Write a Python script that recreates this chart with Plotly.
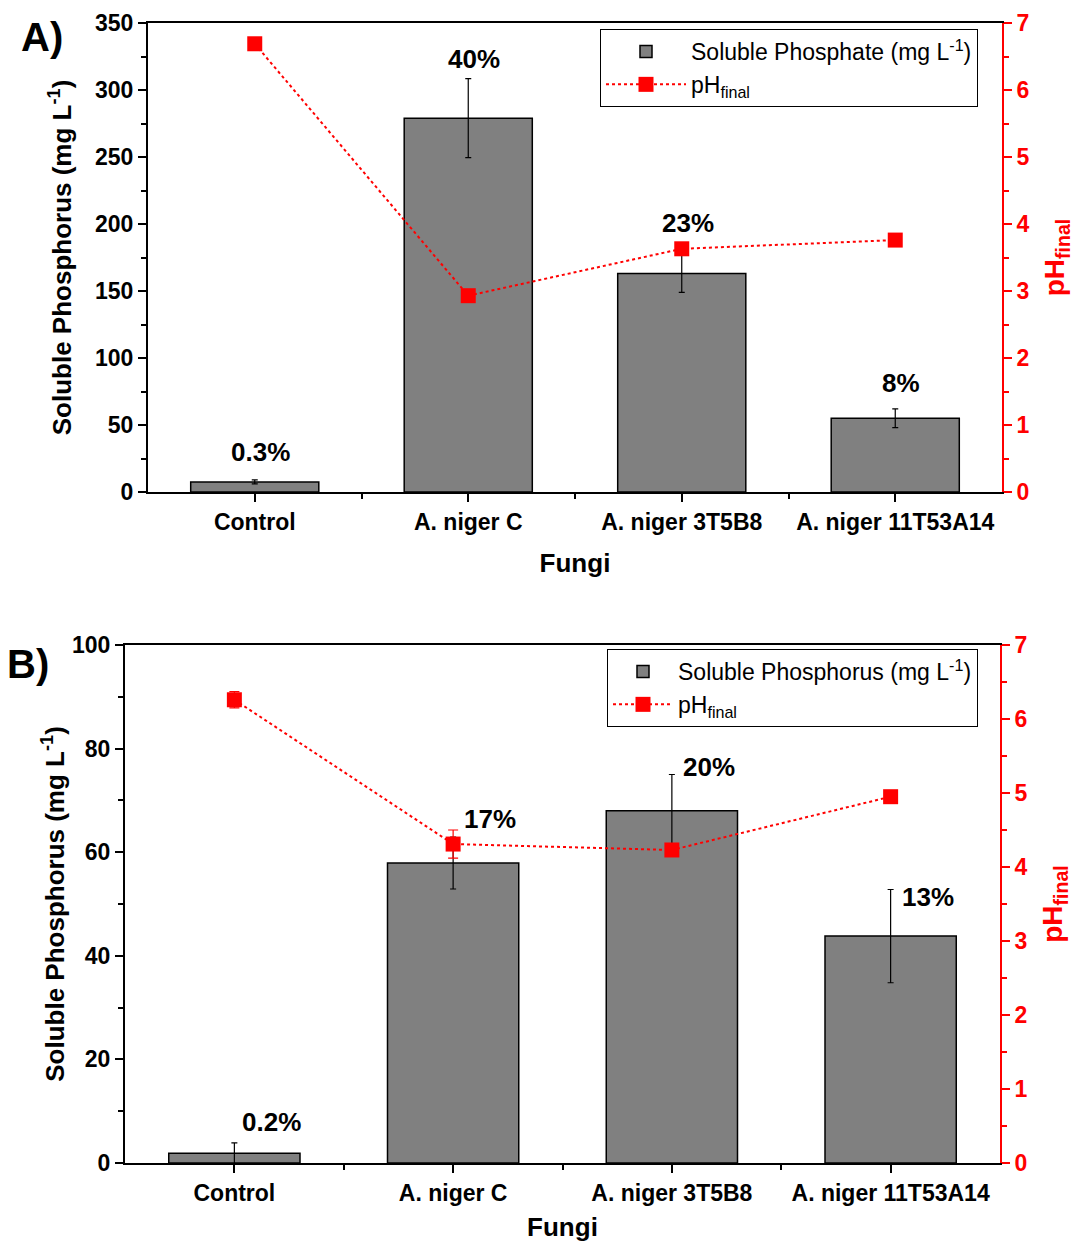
import plotly.graph_objects as go

# ---------------- data ----------------
categories = ["Control", "A. niger C", "A. niger 3T5B8", "A. niger 11T53A14"]

# Panel A
a_phosphate = [7.5, 279, 163, 55]
a_phosphate_err = [1.5, 29.5, 14, 7]
a_ph = [6.69, 2.93, 3.63, 3.76]
a_pct = ["0.3%", "40%", "23%", "8%"]
a_pct_y = [30, 323, 201, 81]

# Panel B
b_phosphorus = [1.9, 57.9, 68, 43.8]
b_phosphorus_err = [2, 5, 7, 9]
b_ph = [6.26, 4.31, 4.23, 4.95]
b_ph_err = [0.11, 0.19, 0.0, 0.0]
b_pct = ["0.2%", "17%", "20%", "13%"]
b_pct_y = [7.9, 66.4, 76.4, 51.4]

xpos = list(range(len(categories)))
W, H = 1087, 1242

FONT = "Liberation Sans, Arial, sans-serif"
GRAY = "#808080"
RED = "#ff0000"

fig = go.Figure()

# ---- Panel A ----
fig.add_trace(go.Bar(
    x=xpos, y=a_phosphate, width=0.6,
    marker=dict(color=GRAY, line=dict(color="black", width=1.5)),
    error_y=dict(type="data", array=a_phosphate_err, color="black", thickness=1.2, width=3),
    name="Soluble Phosphate (mg L<sup>-1</sup>)", xaxis="x", yaxis="y", legend="legend"))
fig.add_trace(go.Scatter(
    x=xpos, y=a_ph, mode="lines+markers",
    line=dict(color=RED, width=2, dash="dot"),
    marker=dict(symbol="square", size=15, color=RED),
    name="pH<sub>final</sub>", xaxis="x", yaxis="y2", legend="legend"))

# ---- Panel B ----
fig.add_trace(go.Bar(
    x=xpos, y=b_phosphorus, width=0.6,
    marker=dict(color=GRAY, line=dict(color="black", width=1.5)),
    error_y=dict(type="data", array=b_phosphorus_err, color="black", thickness=1.2, width=3),
    name="Soluble Phosphorus (mg L<sup>-1</sup>)", xaxis="x2", yaxis="y3", legend="legend2"))
fig.add_trace(go.Scatter(
    x=xpos, y=b_ph, mode="lines+markers",
    line=dict(color=RED, width=2, dash="dot"),
    marker=dict(symbol="square", size=15, color=RED),
    error_y=dict(type="data", array=b_ph_err, color=RED, thickness=1.2, width=5),
    name="pH<sub>final</sub>", xaxis="x2", yaxis="y4", legend="legend2"))

# ---- annotations (percent labels) ----
ann = []
for i, t in enumerate(a_pct):
    ann.append(dict(x=xpos[i], y=a_pct_y[i], xref="x", yref="y",
                    text=f"<b>{t}</b>", showarrow=False, xanchor="center", yanchor="middle",
                    xshift=6, font=dict(size=26, color="black", family=FONT)))
for i, t in enumerate(b_pct):
    ann.append(dict(x=xpos[i], y=b_pct_y[i], xref="x2", yref="y3",
                    text=f"<b>{t}</b>", showarrow=False, xanchor="center", yanchor="middle",
                    xshift=37, font=dict(size=26, color="black", family=FONT)))
ann.append(dict(x=42 / W, y=1 - 37 / H, xref="paper", yref="paper", text="<b>A)</b>",
                xanchor="center", yanchor="middle",
                showarrow=False, font=dict(size=40, color="black", family=FONT)))
ann.append(dict(x=28 / W, y=1 - 664 / H, xref="paper", yref="paper", text="<b>B)</b>",
                xanchor="center", yanchor="middle",
                showarrow=False, font=dict(size=40, color="black", family=FONT)))

tickfont = dict(size=23, color="black", family=FONT, weight="bold")
redtickfont = dict(size=23, color=RED, family=FONT, weight="bold")
titlefont = dict(size=26, color="black", family=FONT, weight="bold")
redtitlefont = dict(size=28, color=RED, family=FONT, weight="bold")

def xaxis_cfg(domain, anchor):
    return dict(domain=domain, anchor=anchor, range=[-0.5, 3.5], automargin=False,
                tickvals=xpos, ticktext=categories, tickfont=tickfont,
                ticks="outside", ticklen=8, tickwidth=1.5, tickcolor="black",
                minor=dict(tickvals=[0.5, 1.5, 2.5], ticks="outside", ticklen=5, tickcolor="black"),
                showline=True, linecolor="black", linewidth=2, mirror=True,
                showgrid=False, zeroline=False,
                title=dict(text="Fungi", font=titlefont, standoff=20))

def xtop_cfg(overlay, anchor):
    return dict(overlaying=overlay, anchor=anchor, side="top", range=[-0.5, 3.5], automargin=False,
                tickvals=xpos, showticklabels=False,
                ticks="inside", ticklen=6, tickwidth=1.2, tickcolor="black",
                minor=dict(tickvals=[0.5, 1.5, 2.5], ticks="inside", ticklen=4, tickcolor="black"),
                showline=False, showgrid=False, zeroline=False)

def yleft_cfg(domain, anchor, rng, dtick, mdtick, standoff):
    return dict(domain=domain, anchor=anchor, range=rng, dtick=dtick, automargin=False,
                tickfont=tickfont, ticks="outside", ticklen=8, tickwidth=1.5, tickcolor="black",
                minor=dict(dtick=mdtick, ticks="outside", ticklen=5, tickcolor="black"),
                showline=True, linecolor="black", linewidth=2,
                showgrid=False, zeroline=False,
                title=dict(text="Soluble Phosphorus (mg L<sup>-1</sup>)", font=titlefont,
                           standoff=standoff))

def yright_cfg(anchor, overlay):
    return dict(overlaying=overlay, anchor=anchor, side="right", range=[0, 7], dtick=1,
                automargin=False,
                tickfont=redtickfont, ticks="outside", ticklen=8, tickwidth=1.5, tickcolor=RED,
                minor=dict(dtick=0.5, ticks="outside", ticklen=5, tickcolor=RED),
                showline=True, linecolor=RED, linewidth=2,
                showgrid=False, zeroline=False,
                title=dict(text="pH<sub>final</sub>", font=redtitlefont, standoff=16))

a_dom_x = [148 / W, 1002 / W]
a_dom_y = [1 - 492 / H, 1 - 23 / H]
b_dom_x = [125 / W, 1000 / W]
b_dom_y = [1 - 1163 / H, 1 - 645 / H]

fig.update_layout(
    width=W, height=H,
    margin=dict(l=0, r=0, t=0, b=0, autoexpand=False),
    paper_bgcolor="white", plot_bgcolor="white",
    font=dict(family=FONT, color="black"),
    showlegend=True,
    xaxis=xaxis_cfg(a_dom_x, "y"),
    xaxis3=xtop_cfg("x", "y"),
    yaxis=yleft_cfg(a_dom_y, "x", [0, 350], 50, 25, 16),
    yaxis2=yright_cfg("x", "y"),
    xaxis2=xaxis_cfg(b_dom_x, "y3"),
    xaxis4=xtop_cfg("x2", "y3"),
    yaxis3=yleft_cfg(b_dom_y, "x2", [0, 100], 20, 10, 0),
    yaxis4=yright_cfg("x2", "y3"),
    legend=dict(x=600 / W, y=1 - 29 / H, xanchor="left", yanchor="top",
                bordercolor="black", borderwidth=1, bgcolor="white",
                font=dict(size=23, family=FONT, color="black"), itemwidth=80,
                tracegroupgap=0),
    legend2=dict(x=607 / W, y=1 - 649 / H, xanchor="left", yanchor="top",
                 bordercolor="black", borderwidth=1, bgcolor="white",
                 font=dict(size=23, family=FONT, color="black"), itemwidth=60,
                 tracegroupgap=0),
    annotations=ann,
    bargap=0.4,
)

fig.write_html("out.html")
